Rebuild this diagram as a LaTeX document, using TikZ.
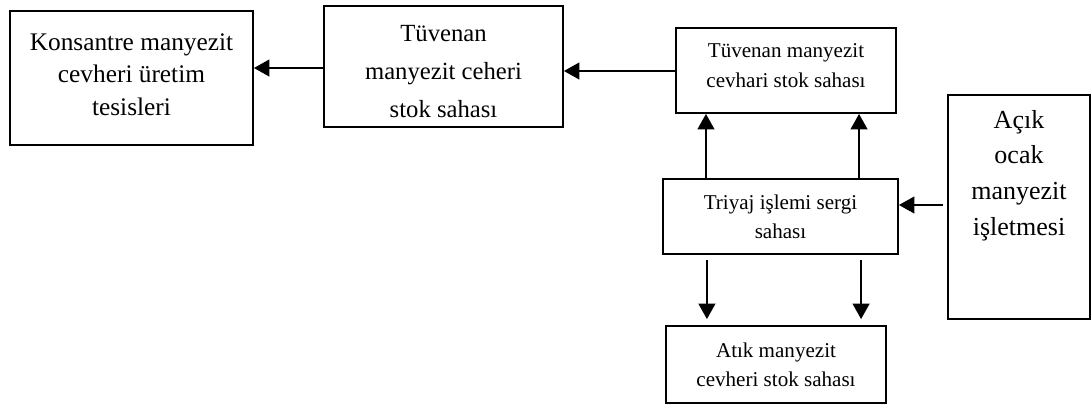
\documentclass[tikz,border=0pt]{standalone}
\usepackage{fontspec}
\setmainfont{Liberation Serif}
\usetikzlibrary{arrows.meta,calc}
\begin{document}
\begin{tikzpicture}[x=0.75pt,y=-0.75pt,
	>={Triangle[length=11.5pt,width=12.5pt]},
	box/.style={draw,line width=1.4pt,inner sep=0pt,align=center},
	txt/.style={align=center,inner sep=0pt},
	flow/.style={->,line width=1.4pt}]
\useasboundingbox (0,0) rectangle (1092,405);
\node[box,minimum width=243*0.75pt,minimum height=134*0.75pt,
	label={[txt,yshift=2.5pt,font=\fontsize{19}{24.4}\selectfont]center:{Konsantre manyezit\\cevheri üretim\\tesisleri}}]
	(kons) at (131.5,78) {};
\node[box,minimum width=239*0.75pt,minimum height=121*0.75pt,
	label={[txt,yshift=-3.8pt,font=\fontsize{18.5}{28.5}\selectfont]center:{Tüvenan\\manyezit ceheri\\stok sahası}}]
	(tuvstok) at (443.5,66.5) {};
\node[box,minimum width=220*0.75pt,minimum height=85*0.75pt,
	label={[txt,yshift=3.5pt,font=\fontsize{15.8}{22.5}\selectfont]center:{Tüvenan manyezit\\cevhari stok sahası}}]
	(tuvsaha) at (786,70.5) {};
\node[box,minimum width=235*0.75pt,minimum height=75*0.75pt,
	font=\fontsize{15.8}{22}\selectfont] (triyaj) at (780.5,216.5)
	{Triyaj işlemi sergi\\sahası};
\node[box,minimum width=220*0.75pt,minimum height=77*0.75pt,
	font=\fontsize{15.8}{22}\selectfont] (atik) at (776,364.5)
	{Atık manyezit\\cevheri stok sahası};
\node[box,minimum width=142*0.75pt,minimum height=224*0.75pt,
	label={[txt,anchor=north,yshift=-12pt,
		font=\fontsize{19.5}{26.7}\selectfont]north:{Açık\\ocak\\manyezit\\işletmesi}}]
	(acik) at (1019,207) {};
% akis oklari
\draw[flow] (tuvstok.west |- 0,68) -- (kons.east |- 0,68);
\draw[flow] (tuvsaha.west |- 0,71) -- (tuvstok.east |- 0,71);
\draw[flow] ([xshift=-3pt]acik.west |- 0,205) -- (triyaj.east |- 0,205);
\foreach \dx in {-55.9,58.9}{
	\draw[flow] ([xshift=\dx pt]triyaj.north) -- ([xshift=\dx pt]triyaj.north |- tuvsaha.south);
}
\foreach \dx in {-51.8,63.8}{
	\draw[flow] ([xshift=\dx pt,yshift=-4pt]triyaj.south -| atik.north)
		-- ([xshift=\dx pt,yshift=4.5pt]atik.north);
}
\end{tikzpicture}
\end{document}
